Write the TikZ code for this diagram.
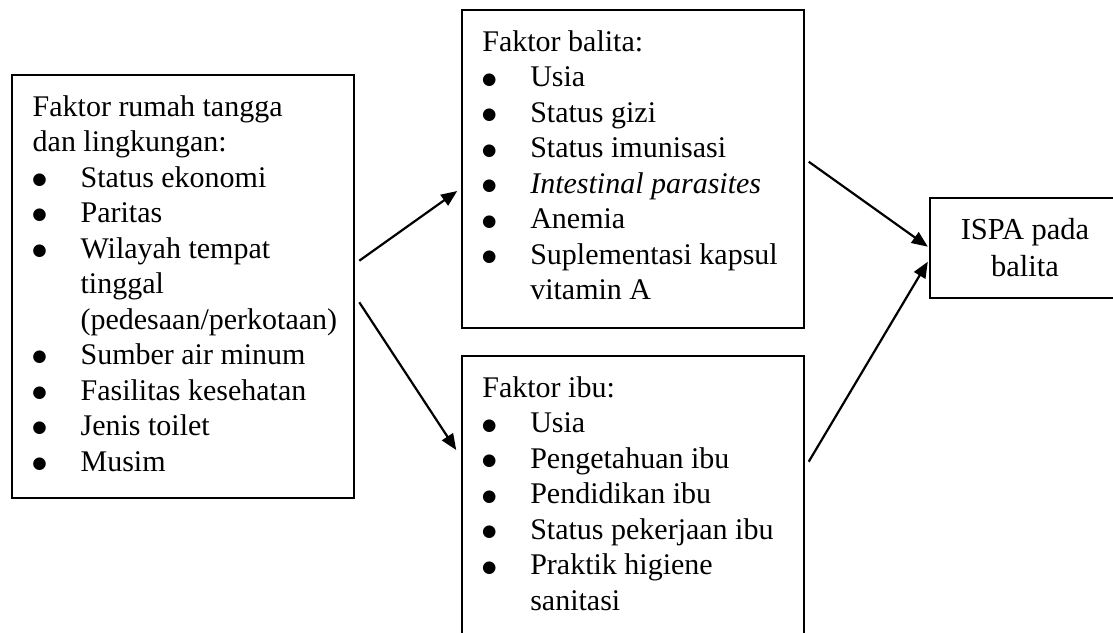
\documentclass[tikz,border=0pt]{standalone}
\usepackage{fontspec}
\setmainfont{Liberation Serif}
\newfontfamily\symfont{DejaVu Sans}
\usetikzlibrary{arrows.meta,calc}
\newcommand\bulletmark{\raisebox{2.8pt}{\fontsize{16.5pt}{16.5pt}\symfont ●}}
\newcommand\hd[1]{\hspace*{20.7pt}#1\par}
\newcommand\bi[1]{\hspace*{27.6pt}\makebox[0pt]{\bulletmark}\hspace*{41pt}#1\par}
\newcommand\ct[1]{\hspace*{68.6pt}#1\par}
\newcommand\boxtext[3]{\parbox[c][#2][t]{#1}{\fontsize{30pt}{35.5pt}\selectfont\parindent=0pt\parskip=0pt\vspace*{20.2pt}#3}}
\begin{document}
\begin{tikzpicture}[x=1pt,y=-1pt,
  factorbox/.style={draw,line width=2pt,inner sep=0pt,anchor=north west},
  outbox/.style={draw,line width=2pt,inner sep=0pt,anchor=north west,minimum width=190pt,minimum height=100pt,align=center,font=\fontsize{30.5pt}{37pt}\selectfont},
  link/.style={line width=2.2pt,-{Triangle[length=16pt,width=13pt]}}]
\useasboundingbox (0,0) rectangle (1113,632);
\clip (0,0) rectangle (1113,632);
\node[factorbox] (L) at (11,74) {\boxtext{342pt}{423pt}{%
\hd{Faktor rumah tangga}
\hd{dan lingkungan:}
\bi{Status ekonomi}
\bi{Paritas}
\bi{Wilayah tempat}
\ct{tinggal}
\ct{(pedesaan/perkotaan)}
\bi{Sumber air minum}
\bi{Fasilitas kesehatan}
\bi{Jenis toilet}
\bi{Musim}}};
\node[factorbox] (T) at (460.7,9.3) {\boxtext{342pt}{317.4pt}{%
\hd{Faktor balita:}
\bi{Usia}
\bi{Status gizi}
\bi{Status imunisasi}
\bi{\textit{Intestinal parasites}}
\bi{Anemia}
\bi{Suplementasi kapsul}
\ct{vitamin A}}};
\node[factorbox] (B) at (460.7,355.3) {\boxtext{342pt}{292pt}{%
\hd{Faktor ibu:}
\bi{Usia}
\bi{Pengetahuan ibu}
\bi{Pendidikan ibu}
\bi{Status pekerjaan ibu}
\bi{Praktik higiene}
\ct{sanitasi}}};
\node[outbox] (R) at (929,197) {ISPA pada\\balita};
\coordinate (a1s) at ($(L.north east)+(4.3,186.7)$);
\coordinate (a2s) at ($(L.north east)+(4.3,228.3)$);
\coordinate (a1e) at ($(T.north west)+(-3.5,181.7)$);
\coordinate (a2e) at ($(B.north west)+(-4.5,94.7)$);
\coordinate (a3s) at ($(T.north east)+(4,152.4)$);
\coordinate (a4s) at ($(B.north east)+(4,106.4)$);
\coordinate (a3e) at ($(R.north west)+(-1.2,49.7)$);
\coordinate (a4e) at ($(R.north west)+(-1.2,64.7)$);
\draw[link] (a1s) -- (a1e);
\draw[link] (a2s) -- (a2e);
\draw[link] (a3s) -- (a3e);
\draw[link] (a4s) -- (a4e);
\end{tikzpicture}
\end{document}
